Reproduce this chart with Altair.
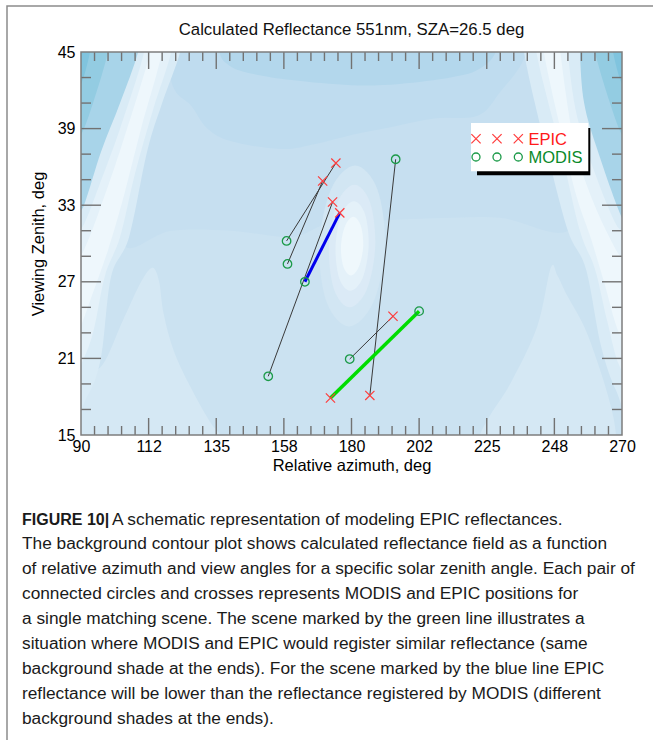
import altair as alt
import pandas as pd

# ---------------- text ----------------
TITLE = "Calculated Reflectance 551nm, SZA=26.5 deg"
X_TITLE = "Relative azimuth, deg"
Y_TITLE = "Viewing Zenith, deg"
CAPTION_BOLD = "FIGURE 10|"
CAPTION_FIRST = "A schematic representation of modeling EPIC reflectances."
CAPTION_LINES = [
    "The background contour plot shows calculated reflectance field as a function",
    "of relative azimuth and view angles for a specific solar zenith angle. Each pair of",
    "connected circles and crosses represents MODIS and EPIC positions for",
    "a single matching scene. The scene marked by the green line illustrates a",
    "situation where MODIS and EPIC would register similar reflectance (same",
    "background shade at the ends). For the scene marked by the blue line EPIC",
    "reflectance will be lower than the reflectance registered by MODIS (different",
    "background shades at the ends).",
]

# ---------------- axes ----------------
X_TICKS = [90, 112.5, 135, 157.5, 180, 202.5, 225, 247.5, 270]
X_TICK_LABELS = ["90", "112", "135", "158", "180", "202", "225", "248", "270"]
Y_TICKS = [15, 21, 27, 33, 39, 45]
Y_TICK_LABELS = ["15", "21", "27", "33", "39", "45"]
X_MINOR = [90 + 4.5 * i for i in range(41) if i % 5 != 0]
Y_MINOR = [15 + 2 * i for i in range(16) if i % 3 != 0]

# ---------------- scenes (EPIC cross -> MODIS circle) ----------------
EPIC_AZ = [174.8, 170.4, 173.7, 176.1, 193.8, 173.0, 186.1]
EPIC_ZEN = [36.3, 34.9, 33.25, 32.4, 24.3, 17.9, 18.1]
MODIS_AZ = [158.4, 158.7, 152.3, 164.5, 179.4, 202.5, 194.7]
MODIS_ZEN = [30.2, 28.4, 19.6, 27.0, 20.95, 24.7, 36.6]
PAIR_KIND = ["black", "black", "black", "blue", "black", "green", "black"]

# ---------------- background reflectance field (contour regions) ----------------
BG_BASE = "#cbe2f1"
BG_MID = [(100, 48), (106, 38), (104, 30), (120, 31), (140, 31), (160, 30.5), (172, 31.5),
          (190, 31.8), (210, 32), (230, 32), (252, 31), (258, 36), (252, 42), (250, 48)]
BG_UPPER = [(116, 48), (118, 45), (121, 42.1), (126.6, 40.8), (132, 39), (140, 38), (156.5, 37.4),
            (168, 37.8), (180, 38.5), (190.8, 39), (207.5, 39.8), (222, 40), (229.6, 41.9),
            (237.4, 44.5), (240, 48)]
BG_TOP = [(134, 48), (136, 45), (139, 44), (145, 43.4), (160, 42.8), (180, 42.4), (196, 42.5),
          (213, 43), (222, 43.6), (228, 45), (230, 48)]
BG_PEAK_L = [(86, 12), (86, 19), (91, 19.8), (97.2, 20.5), (104, 24), (110, 27), (113.8, 28.1),
             (116, 27), (117.5, 24.5), (121, 21.5), (127, 18.5), (133, 16), (137.5, 14.5), (138, 12)]
BG_PEAK_R = [(221, 12), (222, 14.5), (226, 16.5), (233, 19.1), (241.8, 23.5), (246.3, 28.1),
             (248.5, 27.5), (251.8, 25.9), (257.4, 23.5), (262, 20.6), (266, 17.5), (268, 15), (268, 12)]
BG_CORNER_L1 = [(86, 48), (114, 48), (110, 41), (104, 36), (94, 29), (86, 27)]
BG_CORNER_L2 = [(86, 48), (101, 48), (99, 45), (94, 41), (90, 38.5), (86, 37.5)]
BG_CORNER_L3 = [(86, 48), (95, 48), (93, 45), (90, 42.5), (86, 41.5)]
BG_CORNER_R1 = [(274, 48), (245, 48), (250, 41), (256, 36), (266, 29), (274, 27)]
BG_CORNER_R2 = [(274, 48), (259, 48), (261, 45), (266, 41), (270, 38.5), (274, 37.5)]
BG_CORNER_R3 = [(274, 48), (265, 48), (267, 45), (270, 42.5), (274, 41.5)]
BG_BAND_L1 = [(86, 16.5), (86, 30.5), (91, 33), (96.7, 37.2), (103, 41), (109, 45), (111, 48),
              (125, 48), (123, 45), (117, 41), (112, 37.2), (106, 30.5), (100, 27.4), (96.6, 21), (92, 18)]
BG_BAND_L2 = [(86, 19), (86, 29.5), (91, 31.5), (96, 34.5), (103, 39), (111, 45), (112, 48),
              (121, 48), (120, 45), (114, 40.5), (108, 35.5), (103, 30.5), (98, 27.5), (94, 23), (90, 20.5)]
BG_BAND_L3 = [(86, 22), (86, 27.5), (91, 29.5), (96, 32.5), (104, 38), (113, 45), (114, 48),
              (118, 48), (117, 45), (110, 39), (104, 33.5), (99, 29.5), (93, 25.5), (89, 23)]
BG_BAND_R1 = [(274, 16.5), (274, 31), (270, 32), (262, 37.2), (257.4, 41), (256, 45), (256, 48),
              (236, 48), (237.4, 45), (241, 41), (245, 37.2), (252, 31), (258, 28), (263, 22), (268, 18.5)]
BG_BAND_R2 = [(274, 19.5), (274, 29.5), (268, 31.5), (261, 35.5), (255, 40), (252, 45), (252, 48),
              (240, 48), (241.5, 45), (245.5, 41), (250, 37), (256, 31), (261, 28), (265, 24), (269, 20.5)]
BG_BAND_R3 = [(274, 22), (274, 27.5), (268, 29.5), (260, 33.5), (254, 38), (249.5, 45), (249, 48),
              (243, 48), (244, 45), (249, 39.5), (254.5, 34), (259.5, 30.5), (264, 27), (269, 23)]
BG_HOT1 = [(181.2, 36.1), (188.6, 34.25), (191.1, 29.8), (187.2, 25.35), (179.2, 23.5),
           (171.8, 25.35), (169.3, 29.8), (173.2, 34.25)]
BG_HOT2 = [(181.0, 34.6), (186.2, 33.2), (187.9, 29.8), (185.1, 26.4), (179.4, 25.0),
           (174.2, 26.4), (172.5, 29.8), (175.3, 33.2)]
BG_HOT3 = [(180.8, 33.3), (184.5, 32.3), (185.7, 29.8), (183.7, 27.3), (179.6, 26.3),
           (175.9, 27.3), (174.7, 29.8), (176.7, 32.3)]
BG_HOT4 = [(180.6, 32.1), (183.1, 31.4), (183.9, 29.8), (182.5, 28.2), (179.8, 27.5),
           (177.3, 28.2), (176.5, 29.8), (177.9, 31.4)]

BG_LAYERS = [
    (BG_MID, "#c6dff0"), (BG_UPPER, "#bfdcef"), (BG_TOP, "#b3d7ec"),
    (BG_PEAK_L, "#d5e8f4"), (BG_PEAK_R, "#d5e8f4"),
    (BG_CORNER_L1, "#a8d4e9"), (BG_CORNER_L2, "#93cce2"), (BG_CORNER_L3, "#80c4de"),
    (BG_CORNER_R1, "#a8d4e9"), (BG_CORNER_R2, "#93cce2"), (BG_CORNER_R3, "#80c4de"),
    (BG_BAND_L1, "#d9ebf6"), (BG_BAND_L2, "#e4f1f9"), (BG_BAND_L3, "#eef7fc"),
    (BG_BAND_R1, "#d9ebf6"), (BG_BAND_R2, "#e4f1f9"), (BG_BAND_R3, "#eef7fc"),
    (BG_HOT1, "#d2e6f3"), (BG_HOT2, "#dbeaf6"), (BG_HOT3, "#e4f1f9"), (BG_HOT4, "#eff8fc"),
]

# ---------------- layout ----------------
W, H = 541, 383
FONT = "Liberation Sans"

xscale = alt.Scale(domain=[90, 270], nice=False, zero=False)
yscale = alt.Scale(domain=[15, 45], nice=False, zero=False)

x_label_expr = " : ".join(
    f"datum.value == {v} ? '{s}'" for v, s in zip(X_TICKS, X_TICK_LABELS)) + " : ''"
y_label_expr = " : ".join(
    f"datum.value == {v} ? '{s}'" for v, s in zip(Y_TICKS, Y_TICK_LABELS)) + " : ''"

xaxis = alt.Axis(values=X_TICKS, labelExpr=x_label_expr, title=X_TITLE, ticks=False, tickSize=0,
                 domain=False, grid=False, labelFont=FONT, labelFontSize=16, labelColor="black",
                 labelPadding=3, labelFlush=False, labelOverlap=False,
                 titleFont=FONT, titleFontSize=16.5, titleFontWeight="normal", titleColor="black",
                 titlePadding=3)
yaxis = alt.Axis(values=Y_TICKS, labelExpr=y_label_expr, title=Y_TITLE, ticks=False, tickSize=0,
                 domain=False, grid=False, labelFont=FONT, labelFontSize=16, labelColor="black",
                 labelPadding=6, labelFlush=False, labelOverlap=False,
                 titleFont=FONT, titleFontSize=16.5, titleFontWeight="normal", titleColor="black",
                 titlePadding=11)


def X(field):
    return alt.X(field, type="quantitative", scale=xscale, axis=xaxis)


def Y(field):
    return alt.Y(field, type="quantitative", scale=yscale, axis=yaxis)


layers = []

# background contour regions
for poly, col in BG_LAYERS:
    df = pd.DataFrame({"az": [p[0] for p in poly], "zen": [p[1] for p in poly],
                       "ord": list(range(len(poly)))})
    layers.append(
        alt.Chart(df).mark_line(filled=True, interpolate="cardinal-closed", clip=True,
                                color=col, strokeWidth=0)
        .encode(x=X("az"), y=Y("zen"), order=alt.Order("ord:Q"))
    )

# inward tick marks on all four sides
xt = pd.DataFrame({"v": X_TICKS[1:-1]})
xm = pd.DataFrame({"v": X_MINOR})
yt = pd.DataFrame({"v": Y_TICKS[1:-1]})
ym = pd.DataFrame({"v": Y_MINOR})
tick_style = dict(color="#727272", strokeWidth=1.4)
for df, ln in ((xt, 17), (xm, 9)):
    layers.append(alt.Chart(df).mark_rule(**tick_style).encode(
        x=X("v"), y=alt.value(H), y2=alt.value(H - ln)))
    layers.append(alt.Chart(df).mark_rule(**tick_style).encode(
        x=X("v"), y=alt.value(0), y2=alt.value(ln)))
for df, ln in ((yt, 20), (ym, 10)):
    layers.append(alt.Chart(df).mark_rule(**tick_style).encode(
        y=Y("v"), x=alt.value(0), x2=alt.value(ln)))
    layers.append(alt.Chart(df).mark_rule(**tick_style).encode(
        y=Y("v"), x=alt.value(W), x2=alt.value(W - ln)))

# scene connecting lines
pairs = pd.DataFrame({"eaz": EPIC_AZ, "ezen": EPIC_ZEN, "maz": MODIS_AZ, "mzen": MODIS_ZEN,
                      "kind": PAIR_KIND})
line_styles = {"black": ("#3a3a3a", 1.0), "blue": ("#0000ee", 3.0), "green": ("#00dd00", 3.5)}
for kind, (col, sw) in line_styles.items():
    layers.append(
        alt.Chart(pairs).transform_filter(alt.datum.kind == kind)
        .mark_rule(color=col, strokeWidth=sw)
        .encode(x=X("eaz"), y=Y("ezen"), x2="maz:Q", y2="mzen:Q")
    )

CROSS = "M-1,-1L1,1M-1,1L1,-1"
epic = pd.DataFrame({"az": EPIC_AZ, "zen": EPIC_ZEN})
modis = pd.DataFrame({"az": MODIS_AZ, "zen": MODIS_ZEN})
layers.append(alt.Chart(epic).mark_point(shape=CROSS, filled=False, size=85, color="#ff3b3b",
                                         strokeWidth=1.2, opacity=1)
              .encode(x=X("az"), y=Y("zen")))
layers.append(alt.Chart(modis).mark_point(shape="circle", filled=False, size=72, color="#1b9a48",
                                          strokeWidth=1.3, opacity=1)
              .encode(x=X("az"), y=Y("zen")))

# plot frame
one = pd.DataFrame({"a": [0]})
layers.append(alt.Chart(one).mark_rect(fillOpacity=0, stroke="#7d7d7d", strokeWidth=1.5).encode(
    x=alt.value(0), x2=alt.value(W), y=alt.value(0), y2=alt.value(H)))

# legend box (pixel space)
layers.append(alt.Chart(one).mark_rect(color="black").encode(
    x=alt.value(396), x2=alt.value(509.3), y=alt.value(76), y2=alt.value(123.3)))
layers.append(alt.Chart(one).mark_rect(color="white").encode(
    x=alt.value(390), x2=alt.value(507.3), y=alt.value(71), y2=alt.value(119.3)))
LEG_SYM_X = [395, 416, 437.3]
leg = pd.DataFrame({"px": LEG_SYM_X})
layers.append(alt.Chart(leg).mark_point(shape=CROSS, filled=False, size=85, color="#ff3b3b",
                                        strokeWidth=1.2, opacity=1)
              .encode(x=alt.X("px:Q", scale=None), y=alt.value(86.7)))
layers.append(alt.Chart(leg).mark_point(shape="circle", filled=False, size=64, color="#1b9a48",
                                        strokeWidth=1.3, opacity=1)
              .encode(x=alt.X("px:Q", scale=None), y=alt.value(105)))
layers.append(alt.Chart(one).mark_text(text="EPIC", font=FONT, fontSize=16.5, color="#ff1a1a",
                                       align="left", baseline="middle").encode(
    x=alt.value(447.5), y=alt.value(87.5)))
layers.append(alt.Chart(one).mark_text(text="MODIS", font=FONT, fontSize=16.5, color="#0b8a2a",
                                       align="left", baseline="middle").encode(
    x=alt.value(447.5), y=alt.value(105.8)))

# chart title
layers.append(alt.Chart(one).mark_text(text=TITLE, font=FONT, fontSize=16.8, color="#111111",
                                       align="center", baseline="middle").encode(
    x=alt.value(W / 2), y=alt.value(-22)))

# caption
cap_y0 = 467.5
cap_dy = 24.9
CAP_SIZE = 17.3
layers.append(alt.Chart(one).mark_text(text=CAPTION_BOLD, font=FONT, fontSize=16, fontWeight="bold",
                                       color="#1a1a1a", align="left", baseline="middle").encode(
    x=alt.value(-59), y=alt.value(cap_y0)))
layers.append(alt.Chart(one).mark_text(text=CAPTION_FIRST, font=FONT, fontSize=CAP_SIZE,
                                       color="#1a1a1a", align="left", baseline="middle").encode(
    x=alt.value(31), y=alt.value(cap_y0)))
cap = pd.DataFrame({"t": CAPTION_LINES, "i": list(range(1, len(CAPTION_LINES) + 1))})
cap["yy"] = cap_y0 + cap_dy * cap["i"]
layers.append(alt.Chart(cap).mark_text(font=FONT, fontSize=CAP_SIZE, color="#1a1a1a", align="left",
                                       baseline="middle").encode(
    text="t:N", x=alt.value(-59), y=alt.Y("yy:Q", scale=None)))

# outer figure frame
layers.append(alt.Chart(one).mark_rect(fillOpacity=0, stroke="#8c8c8c", strokeWidth=1.5).encode(
    x=alt.value(-74), x2=alt.value(700), y=alt.value(-46), y2=alt.value(800)))

chart = alt.layer(*layers).properties(
    width=W, height=H,
    autosize=alt.AutoSizeParams(type="none"),
    padding={"left": 81, "top": 52, "right": 31, "bottom": 305},
    background="white",
).configure_view(stroke=None, fill=BG_BASE)

chart.save("out.html", embed_options={"renderer": "svg", "actions": False})
